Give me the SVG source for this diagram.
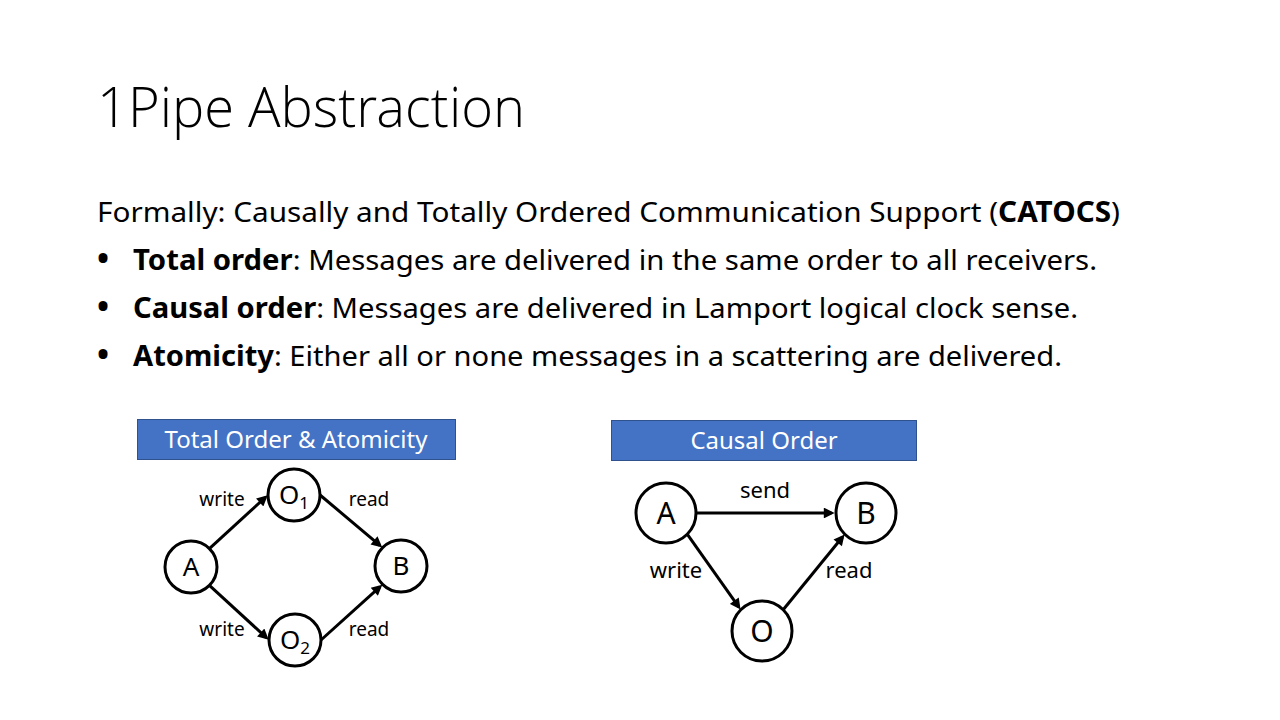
<svg xmlns="http://www.w3.org/2000/svg" width="1280" height="720" viewBox="0 0 1280 720">
<style>
text{font-family:"Noto Sans","Open Sans","DejaVu Sans",sans-serif;fill:#000}
.title{font-family:"Open Sans Light","Noto Sans Light","Lato Light","Open Sans",sans-serif;font-size:56px;font-weight:300}
.body{font-size:28px}
.b{font-weight:bold}
.bul{font-size:32px;font-weight:bold}
.hdr rect{fill:#4472C4;stroke:#2F528F;stroke-width:1}
.hdr text{fill:#fff;font-size:24px;text-anchor:middle}
.node circle{fill:#fff;stroke:#000;stroke-width:3}
.n1 text{font-size:26px;text-anchor:middle}
.n2 text{font-size:30px;text-anchor:middle}
.sub{font-size:17px}
.lbl{font-size:19px;text-anchor:middle}
.lbl2{font-size:22px;text-anchor:middle}
#connectors line{stroke:#000;stroke-width:3;marker-end:url(#arr)}
</style>
<defs>
<marker id="arr" viewBox="0 0 10 10" refX="7" refY="5" markerWidth="4" markerHeight="3.6" orient="auto" markerUnits="strokeWidth">
<path d="M0,0 L10,5 L0,10 z" fill="#000"/>
</marker>
</defs>
<rect width="1280" height="720" fill="#fff"/>
<text class="title" x="97" y="127" textLength="428" lengthAdjust="spacingAndGlyphs">1Pipe Abstraction</text>
<text class="body" x="97" y="222" textLength="1023" lengthAdjust="spacingAndGlyphs">Formally: Causally and Totally Ordered Communication Support (<tspan class="b">CATOCS</tspan>)</text>
<text class="bul" x="97" y="270">•</text>
<text class="body" x="133" y="270" textLength="964" lengthAdjust="spacingAndGlyphs"><tspan class="b">Total order</tspan>: Messages are delivered in the same order to all receivers.</text>
<text class="bul" x="97" y="318">•</text>
<text class="body" x="133" y="318" textLength="945" lengthAdjust="spacingAndGlyphs"><tspan class="b">Causal order</tspan>: Messages are delivered in Lamport logical clock sense.</text>
<text class="bul" x="97" y="366">•</text>
<text class="body" x="133" y="366" textLength="929" lengthAdjust="spacingAndGlyphs"><tspan class="b">Atomicity</tspan>: Either all or none messages in a scattering are delivered.</text>

<g id="hdr-left" class="hdr">
<rect x="137.5" y="419.5" width="318" height="40"/>
<text x="296" y="448">Total Order &amp; Atomicity</text>
</g>
<g id="hdr-right" class="hdr">
<rect x="611.5" y="420.5" width="305" height="40"/>
<text x="764" y="449">Causal Order</text>
</g>

<g id="connectors">
<line x1="209.4" y1="548.6" x2="265.3" y2="497.4"/>
<line x1="320" y1="495" x2="379.8" y2="545.3"/>
<line x1="209.4" y1="585.4" x2="266.3" y2="637.6"/>
<line x1="321" y1="640" x2="379.9" y2="586.8"/>
<line x1="697" y1="513" x2="831.4" y2="513"/>
<line x1="687.2" y1="534.2" x2="738.7" y2="606.9"/>
<line x1="783.2" y1="609.8" x2="842.5" y2="537"/>
</g>
<g id="connector-labels">
<text class="lbl" x="222" y="506">write</text>
<text class="lbl" x="369" y="506">read</text>
<text class="lbl" x="222" y="636">write</text>
<text class="lbl" x="369" y="636">read</text>
<text class="lbl2" x="765" y="498">send</text>
<text class="lbl2" x="676" y="578">write</text>
<text class="lbl2" x="849" y="578">read</text>
</g>

<g id="L-A" class="node n1"><circle cx="191" cy="567" r="26"/><text x="191" y="576">A</text></g>
<g id="L-O1" class="node n1"><circle cx="294" cy="495" r="26"/><text x="294" y="504">O<tspan class="sub" dy="5">1</tspan></text></g>
<g id="L-O2" class="node n1"><circle cx="295" cy="640" r="26"/><text x="295" y="649">O<tspan class="sub" dy="5">2</tspan></text></g>
<g id="L-B" class="node n1"><circle cx="401" cy="566" r="26"/><text x="401" y="575">B</text></g>

<g id="R-A" class="node n2"><circle cx="666" cy="513" r="30"/><text x="666" y="524">A</text></g>
<g id="R-B" class="node n2"><circle cx="866" cy="513" r="30"/><text x="866" y="524">B</text></g>
<g id="R-O" class="node n2"><circle cx="762" cy="631" r="30"/><text x="762" y="642">O</text></g>
</svg>
